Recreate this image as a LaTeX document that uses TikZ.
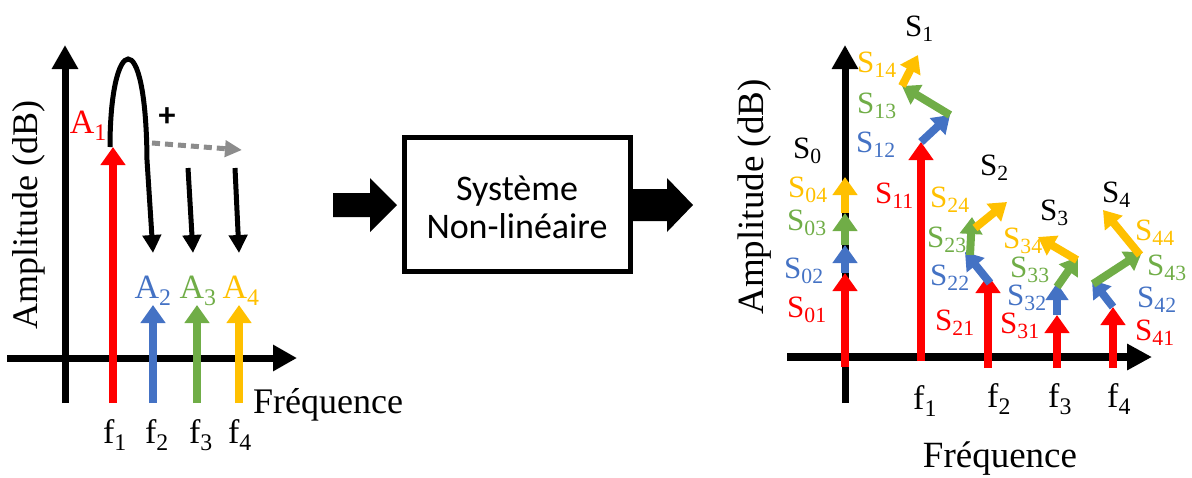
\documentclass[tikz,border=0pt]{standalone}
\usepackage{fontspec}
\setmainfont{Liberation Serif}
\newfontfamily\calibri{Carlito}
\usetikzlibrary{arrows.meta}
\definecolor{cred}{HTML}{FF0000}
\definecolor{cblue}{HTML}{4472C4}
\definecolor{cgreen}{HTML}{70AD47}
\definecolor{cyellow}{HTML}{FFC000}
\definecolor{cgray}{HTML}{8C8C8C}
\newcommand{\Sx}[2]{#1\textsubscript{#2}}
\begin{document}
\begin{tikzpicture}[x=1pt,y=-1pt,
 axis/.style={line width=7pt,-{Triangle[width=25pt,length=24pt]}},
 spec/.style={line width=8pt,-{Triangle[width=24pt,length=18pt]}},
 part/.style={line width=8pt,-{Triangle[width=22pt,length=17pt]}},
 blk/.style={line width=5pt,-{Triangle[width=18pt,length=18pt]}},
 lbl/.style={font=\fontsize{34}{36}\selectfont, inner sep=0pt},
 slbl/.style={font=\fontsize{31}{34}\selectfont, inner sep=0pt, anchor=base west},
 big/.style={font=\fontsize{36}{38}\selectfont, inner sep=0pt},
 boxtxt/.style={font=\calibri\fontsize{36}{38}\selectfont, inner sep=0pt, anchor=base},
]
\useasboundingbox (0,0) rectangle (1192,477);

% ---------------- left panel ----------------
\coordinate (LVb) at (65,403); \coordinate (LVt) at (65,45);
\coordinate (LHl) at (7,358);  \coordinate (LHr) at (297,358);
\draw[axis] (LVb) -- (LVt);
\draw[axis] (LHl) -- (LHr);

\coordinate (b1) at (113,403); \coordinate (t1) at (113,147);
\coordinate (b2) at (153,403); \coordinate (t2) at (153,305);
\coordinate (b3) at (197,403); \coordinate (t3) at (197,305);
\coordinate (b4) at (239,403); \coordinate (t4) at (239,305);
\draw[spec,cred] (b1) -- (t1);
\draw[spec,cblue] (b2) -- (t2);
\draw[spec,cgreen] (b3) -- (t3);
\draw[spec,cyellow] (b4) -- (t4);

\node[lbl,cred,anchor=base east] (A1) at (107,133) {\Sx{A}{1}};
\node[lbl,cblue,anchor=base] (A2) at (153,298) {\Sx{A}{2}};
\node[lbl,cgreen,anchor=base] (A3) at (198,298) {\Sx{A}{3}};
\node[lbl,cyellow,anchor=base] (A4) at (241,298) {\Sx{A}{4}};

\node[lbl,anchor=base] (f1) at (115,443) {\Sx{f}{1}};
\node[lbl,anchor=base] (f2) at (157,443) {\Sx{f}{2}};
\node[lbl,anchor=base] (f3) at (201,443) {\Sx{f}{3}};
\node[lbl,anchor=base] (f4) at (240,443) {\Sx{f}{4}};

\coordinate (lp0) at (110,147); \coordinate (lp1) at (147,160); \coordinate (lp2) at (153,253);
\draw[blk] (lp0) .. controls (110,35) and (146,20) .. (lp1) -- (lp2);
\coordinate (k3a) at (188,168); \coordinate (k3b) at (193,253);
\coordinate (k4a) at (235,168); \coordinate (k4b) at (239,253);
\draw[blk] (k3a) -- (k3b);
\draw[blk] (k4a) -- (k4b);
\coordinate (ga) at (152,143); \coordinate (gb) at (242,150);
\draw[cgray, line width=5pt, dash pattern=on 8pt off 5pt, -{Triangle[width=16pt,length=17pt]}] (ga) -- (gb);
\node[font=\calibri\bfseries\fontsize{34}{36}\selectfont, inner sep=0pt] (plus) at (167,117) {+};

\node[big,anchor=base west] (FrL) at (253,413) {Fréquence};
\node[big,rotate=90] (AmL) at (29,215) {Amplitude (dB)};

% ---------------- middle ----------------
\node[draw, line width=5pt, minimum width=226pt, minimum height=134pt, inner sep=0pt] (sys) at (517.5,204.5) {};
\node[boxtxt] (sys1) at (517,200) {Système};
\node[boxtxt] (sys2) at (517,238) {Non-linéaire};
\fill (333,193) -- (370,193) -- (370,178) -- (397,205) -- (370,232) -- (370,217) -- (333,217) -- cycle;
\fill (632,189) -- (667,189) -- (667,178) -- (693,205) -- (667,232) -- (667,221) -- (632,221) -- cycle;

% ---------------- right panel ----------------
\coordinate (RVb) at (845,403); \coordinate (RVt) at (845,45);
\coordinate (RHl) at (787,357); \coordinate (RHr) at (1152,357);
\draw[axis] (RVb) -- (RVt);
\draw[line width=8pt,-{Triangle[width=25pt,length=25pt]}] (RHl) -- (RHr);

% S0
\coordinate (s00) at (845,367); \coordinate (s01) at (845,273); \coordinate (s02) at (845,245);
\coordinate (s03) at (845,213); \coordinate (s04) at (845,177);
\draw[spec,cred] (s00) -- (s01);
\draw[spec,cblue] (s01) -- (s02);
\draw[spec,cgreen] (s02) -- (s03);
\draw[spec,cyellow] (s03) -- (s04);
% S1
\coordinate (s10) at (921,361); \coordinate (s11) at (921,142); \coordinate (s12) at (950,115);
\coordinate (s13) at (902,86); \coordinate (s14) at (918,55);
\draw[spec,cred] (s10) -- (s11);
\draw[part,cblue] (s11) -- (s12);
\draw[part,cgreen] (s12) -- (s13);
\draw[part,cyellow] (s13) -- (s14);
% S2
\coordinate (s20) at (988,368); \coordinate (s21) at (988,275);
\coordinate (s22a) at (990,283); \coordinate (s22) at (965,252);
\coordinate (s23a) at (970,255); \coordinate (s23) at (972,217);
\coordinate (s24a) at (975,228); \coordinate (s24) at (1007,202);
\draw[spec,cred] (s20) -- (s21);
\draw[part,cblue] (s22a) -- (s22);
\draw[part,cgreen] (s23a) -- (s23);
\draw[part,cyellow] (s24a) -- (s24);
% S3
\coordinate (s30) at (1057,368); \coordinate (s31) at (1057,315); \coordinate (s32) at (1057,283);
\coordinate (s33a) at (1057,287); \coordinate (s33) at (1078,257);
\coordinate (s34a) at (1077,260); \coordinate (s34) at (1038,237);
\draw[spec,cred] (s30) -- (s31);
\draw[part,cblue] (s31) -- (s32);
\draw[part,cgreen] (s33a) -- (s33);
\draw[part,cyellow] (s34a) -- (s34);
% S4
\coordinate (s40) at (1113,368); \coordinate (s41) at (1113,307); \coordinate (s42) at (1092,280);
\coordinate (s43a) at (1093,284); \coordinate (s43) at (1142,252);
\coordinate (s44a) at (1140,255); \coordinate (s44) at (1103,210);
\draw[spec,cred] (s40) -- (s41);
\draw[part,cblue] (s41) -- (s42);
\draw[part,cgreen] (s43a) -- (s43);
\draw[part,cyellow] (s44a) -- (s44);

% labels S0
\node[slbl,cred] (L01) at (787,317) {\Sx{S}{01}};
\node[slbl,cblue] (L02) at (784,278) {\Sx{S}{02}};
\node[slbl,cgreen] (L03) at (787,230) {\Sx{S}{03}};
\node[slbl,cyellow] (L04) at (788,197) {\Sx{S}{04}};
\node[slbl] (L0) at (793,158) {\Sx{S}{0}};
% labels S1
\node[slbl,cyellow] (L14) at (857,72) {\Sx{S}{14}};
\node[slbl,cgreen] (L13) at (857,113) {\Sx{S}{13}};
\node[slbl,cblue] (L12) at (856,152) {\Sx{S}{12}};
\node[slbl,cred] (L11) at (875,203) {\Sx{S}{11}};
\node[slbl] (L1) at (905,36) {\Sx{S}{1}};
% labels S2
\node[slbl,cyellow] (L24) at (930,207) {\Sx{S}{24}};
\node[slbl,cgreen] (L23) at (927,247) {\Sx{S}{23}};
\node[slbl,cblue] (L22) at (930,285) {\Sx{S}{22}};
\node[slbl,cred] (L21) at (935,330) {\Sx{S}{21}};
\node[slbl] (L2) at (980,175) {\Sx{S}{2}};
% labels S3
\node[slbl,cyellow] (L34) at (1003,248) {\Sx{S}{34}};
\node[slbl,cgreen] (L33) at (1010,277) {\Sx{S}{33}};
\node[slbl,cblue] (L32) at (1007,305) {\Sx{S}{32}};
\node[slbl,cred] (L31) at (1000,333) {\Sx{S}{31}};
\node[slbl] (L3) at (1040,220) {\Sx{S}{3}};
% labels S4
\node[slbl,cyellow] (L44) at (1135,240) {\Sx{S}{44}};
\node[slbl,cgreen] (L43) at (1147,275) {\Sx{S}{43}};
\node[slbl,cblue] (L42) at (1137,307) {\Sx{S}{42}};
\node[slbl,cred] (L41) at (1135,340) {\Sx{S}{41}};
\node[slbl] (L4) at (1102,202) {\Sx{S}{4}};

\node[lbl,anchor=base west] (g1) at (913,409) {\Sx{f}{1}};
\node[lbl,anchor=base west] (g2) at (987,407) {\Sx{f}{2}};
\node[lbl,anchor=base west] (g3) at (1048,407) {\Sx{f}{3}};
\node[lbl,anchor=base west] (g4) at (1107,407) {\Sx{f}{4}};

\node[font=\fontsize{37}{40}\selectfont, inner sep=0pt, anchor=base] (FrR) at (1000,467) {Fréquence};
\node[font=\fontsize{37}{40}\selectfont, inner sep=0pt, rotate=90] (AmR) at (755,197) {Amplitude (dB)};
\end{tikzpicture}
\end{document}
